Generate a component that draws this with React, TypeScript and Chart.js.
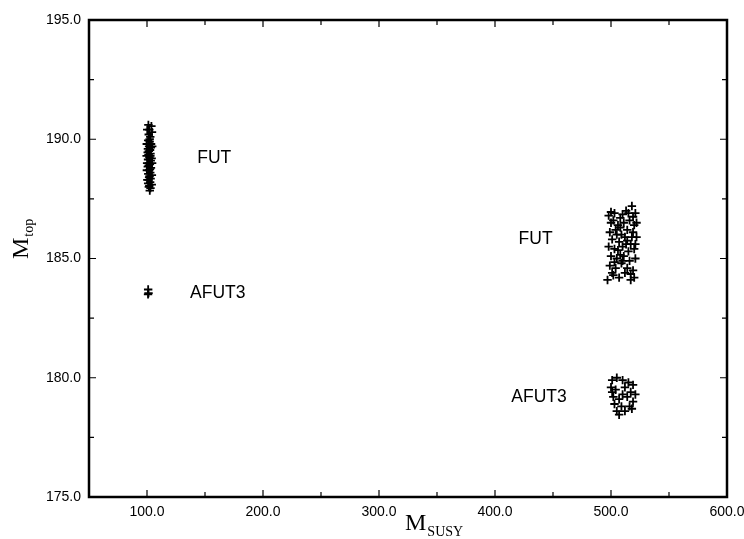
import React, { useEffect, useRef } from "react";
import { Chart, registerables } from "chart.js";

Chart.register(...registerables);

const xTickValues = [100, 200, 300, 400, 500, 600];
const yTickValues = [175, 180, 185, 190, 195];

const fut100: number[][] = [
  [101.2, 190.6], [102.0, 190.4], [101.5, 190.2], [102.8, 190.1], [101.0, 189.95], [102.3, 189.9],
  [103.5, 189.8], [101.8, 189.7], [100.8, 189.6], [102.6, 189.55], [103.0, 189.4], [101.3, 189.35],
  [102.1, 189.25], [100.9, 189.15], [103.2, 189.1], [101.7, 189.0], [102.5, 188.95], [100.7, 188.85],
  [103.4, 188.8], [101.9, 188.7], [102.8, 188.6], [101.1, 188.55], [102.2, 188.45], [103.1, 188.35],
  [101.4, 188.3], [102.7, 188.2], [101.0, 188.15], [102.0, 188.05], [103.0, 187.95], [102.4, 187.85],
  [101.6, 189.5], [102.9, 189.3], [101.5, 188.9], [102.6, 188.75], [101.8, 188.4], [103.3, 189.65],
  [100.6, 189.45], [102.3, 190.0], [101.6, 188.0], [104.0, 189.2], [99.8, 189.8], [104.3, 190.3],
  [99.9, 188.7], [104.2, 188.5], [100.2, 190.4], [104.5, 189.7], [100.1, 189.0], [104.1, 188.1],
  [99.7, 189.3], [104.4, 189.0], [100.3, 188.3], [103.8, 190.55],
];
const afut3_100: number[][] = [[101.0, 183.7], [101.3, 183.55], [100.9, 183.5]];
const fut500: number[][] = [
  [498, 186.8], [503, 186.9], [508, 186.7], [513, 187.0], [518, 187.2], [521, 186.9], [500, 186.5],
  [506, 186.4], [511, 186.5], [516, 186.6], [520, 186.4], [499, 186.1], [504, 186.2], [509, 186.0],
  [514, 186.2], [519, 186.1], [522, 185.9], [501, 185.8], [507, 185.7], [512, 185.9], [517, 185.6],
  [498, 185.5], [503, 185.4], [510, 185.5], [515, 185.3], [520, 185.4], [500, 185.1], [505, 185.0],
  [511, 185.1], [516, 184.9], [521, 185.0], [499, 184.7], [504, 184.6], [509, 184.8], [514, 184.6],
  [519, 184.5], [502, 184.3], [507, 184.2], [512, 184.4], [517, 184.1], [497, 184.1], [505, 186.0],
  [513, 185.6], [518, 185.9], [508, 186.3], [522, 186.5], [502, 186.6], [515, 186.9], [510, 184.9],
  [501, 184.4], [520, 184.2], [500, 186.95], [506, 185.35], [514, 185.75], [519, 186.75],
  [510, 186.85], [503, 184.85], [517, 184.35], [508, 185.15], [521, 185.6],
];
const afut3_500: number[][] = [
  [501, 179.9], [505, 180.0], [510, 179.9], [515, 179.8], [519, 179.7], [500, 179.6], [504, 179.5],
  [512, 179.6], [517, 179.4], [521, 179.3], [502, 179.2], [507, 179.1], [514, 179.2], [519, 179.0],
  [503, 178.9], [509, 178.8], [516, 178.8], [505, 178.6], [512, 178.6], [518, 178.7], [507, 178.45],
  [501, 179.4], [510, 179.3],
];
const labelTexts = ["FUT", "AFUT3", "FUT", "AFUT3"];
const labelX = [158, 161, 435, 438];
const labelY = [189.2, 183.55, 185.8, 179.2];

const SANS = "'Liberation Sans', Arial, sans-serif";
const SERIF = "'Liberation Serif', 'Times New Roman', serif";

const toPts = (arr: number[][]) => arr.map(([x, y]) => ({ x, y }));

const decorPlugin = {
  id: "decor",
  afterDraw(chart: any) {
    const ctx = chart.ctx;
    const { left, right, top, bottom } = chart.chartArea;
    const xs = chart.scales.x;
    const ys = chart.scales.y;
    ctx.save();
    ctx.strokeStyle = "#000";
    ctx.lineWidth = 2.5;
    ctx.strokeRect(left, top, right - left, bottom - top);
    ctx.lineWidth = 1.2;
    ctx.beginPath();
    for (let v = 100; v <= 600; v += 50) {
      const px = xs.getPixelForValue(v);
      const len = v % 100 === 0 ? 7 : 5;
      ctx.moveTo(px, bottom); ctx.lineTo(px, bottom - len);
      ctx.moveTo(px, top); ctx.lineTo(px, top + len);
    }
    for (let v = 175; v <= 195; v += 2.5) {
      const py = ys.getPixelForValue(v);
      const len = v % 5 === 0 ? 7 : 5;
      ctx.moveTo(left, py); ctx.lineTo(left + len, py);
      ctx.moveTo(right, py); ctx.lineTo(right - len, py);
    }
    ctx.stroke();

    // in-plot labels
    ctx.fillStyle = "#000";
    ctx.font = `17.5px ${SANS}`;
    ctx.textAlign = "center";
    ctx.textBaseline = "middle";
    labelTexts.forEach((t, i) => {
      ctx.fillText(t, xs.getPixelForValue(labelX[i]), ys.getPixelForValue(labelY[i]));
    });

    // x title
    ctx.textAlign = "left";
    ctx.textBaseline = "alphabetic";
    ctx.font = `24px ${SERIF}`;
    const mW = ctx.measureText("M").width;
    const xStart = 405;
    ctx.fillText("M", xStart, 530);
    ctx.font = `14px ${SERIF}`;
    ctx.fillText("SUSY", xStart + mW + 1, 536);

    // y title rotated
    ctx.save();
    ctx.translate(28, 259);
    ctx.rotate(-Math.PI / 2);
    ctx.font = `24px ${SERIF}`;
    ctx.fillText("M", 0, 0);
    const mW2 = ctx.measureText("M").width;
    ctx.font = `14px ${SERIF}`;
    ctx.fillText("top", mW2 + 1, 5);
    ctx.restore();
    ctx.restore();
  },
};

export default function App() {
  const ref = useRef<HTMLCanvasElement | null>(null);
  useEffect(() => {
    if (!ref.current) return;
    const pointStyle = {
      pointStyle: "cross" as const,
      radius: 4.2,
      borderColor: "#000",
      backgroundColor: "#000",
      borderWidth: 1.8,
    };
    const chart = new Chart(ref.current, {
      type: "scatter",
      data: {
        datasets: [
          { label: "FUT 100", data: toPts(fut100), ...pointStyle },
          { label: "AFUT3 100", data: toPts(afut3_100), ...pointStyle },
          { label: "FUT 500", data: toPts(fut500), ...pointStyle },
          { label: "AFUT3 500", data: toPts(afut3_500), ...pointStyle },
        ],
      },
      options: {
        animation: false,
        responsive: false,
        layout: { padding: { top: 20, right: 17, left: 0, bottom: 0 } },
        plugins: { legend: { display: false }, tooltip: { enabled: false } },
        scales: {
          x: {
            type: "linear",
            min: 50,
            max: 600,
            grid: { display: false, drawTicks: false },
            border: { display: false },
            afterBuildTicks: (s: any) => { s.ticks = xTickValues.map((v) => ({ value: v })); },
            afterFit: (s: any) => { s.height = 42; s.paddingRight = 0; s.paddingLeft = 0; },
            ticks: {
              padding: 7,
              maxRotation: 0,
              color: "#000",
              font: { family: SANS, size: 14 },
              callback: (v: any) => Number(v).toFixed(1),
            },
          },
          y: {
            type: "linear",
            min: 175,
            max: 195,
            grid: { display: false, drawTicks: false },
            border: { display: false },
            afterBuildTicks: (s: any) => { s.ticks = yTickValues.map((v) => ({ value: v })); },
            afterFit: (s: any) => { s.width = 89; s.paddingTop = 0; s.paddingBottom = 0; },
            ticks: {
              padding: 8,
              color: "#000",
              font: { family: SANS, size: 14 },
              callback: (v: any) => Number(v).toFixed(1),
            },
          },
        },
      },
      plugins: [decorPlugin],
    });
    return () => chart.destroy();
  }, []);
  return (
    <div style={{ position: "absolute", left: 0, top: 0, width: 744, height: 539, background: "#fff" }}>
      <canvas ref={ref} width={744} height={539} />
    </div>
  );
}
